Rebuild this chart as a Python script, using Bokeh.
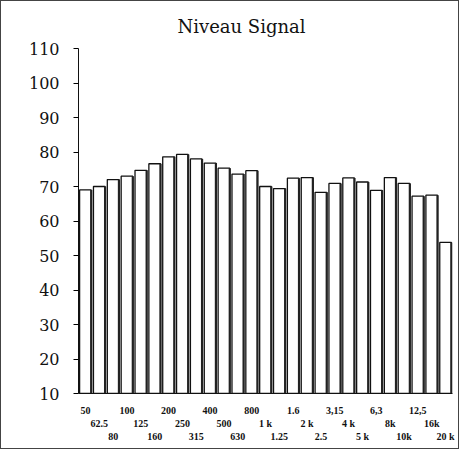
from bokeh.plotting import figure
from bokeh.models import Range1d, FixedTicker
from bokeh.embed import file_html
from bokeh.resources import INLINE

bands = ["50", "62.5", "80", "100", "125", "160", "200", "250", "315", "400",
         "500", "630", "800", "1 k", "1.25", "1.6", "2 k", "2.5", "3,15", "4 k",
         "5 k", "6,3", "8k", "10k", "12,5", "16k", "20 k"]
levels = [69, 70, 72, 73, 74.7, 76.6, 78.6, 79.3, 78, 76.8,
          75.3, 73.6, 74.6, 70, 69.4, 72.4, 72.6, 68.3, 70.9, 72.5,
          71.3, 68.9, 72.6, 70.9, 67.2, 67.5, 53.8]
y_ticks = [10, 20, 30, 40, 50, 60, 70, 80, 90, 100, 110]

xs = list(range(len(bands)))
bw = 0.84

p = figure(width=459, height=449, output_backend="svg", toolbar_location=None,
           x_range=Range1d(-0.5, len(bands) - 0.5), y_range=Range1d(10, 110),
           min_border_left=78, min_border_right=7, min_border_top=48,
           min_border_bottom=56, title="Niveau Signal")
p.styles = {"box-shadow": "inset 0 0 0 1px #444", "background-color": "white"}

p.title.align = "left"
p.title.offset = 99
p.title.text_font = "DejaVu Serif"
p.title.text_font_size = "18px"
p.title.text_font_style = "normal"
p.title.text_color = "#111"
p.title.standoff = 24

p.vbar(x=xs, top=levels, bottom=10, width=bw, fill_color="white",
       line_color="#111", line_width=1.3)
p.segment(x0=[x + bw / 2 for x in xs], y0=[10] * len(xs),
          x1=[x + bw / 2 for x in xs], y1=levels, line_color="#222", line_width=2.2)

p.xgrid.visible = False
p.ygrid.visible = False
p.outline_line_color = None

p.yaxis.ticker = FixedTicker(ticks=y_ticks)
p.yaxis.minor_tick_line_color = None
p.yaxis.major_tick_out = 5
p.yaxis.major_tick_in = 0
p.yaxis.major_label_standoff = 14
p.yaxis.major_label_text_font = "DejaVu Serif"
p.yaxis.major_label_text_font_size = "16px"
p.yaxis.major_label_text_color = "#111"
p.yaxis.axis_line_color = "#111"

p.xaxis.ticker = FixedTicker(ticks=xs)
p.xaxis.major_label_overrides = {i: "\n" * (i % 3) + b for i, b in enumerate(bands)}
p.xaxis.minor_tick_line_color = None
p.xaxis.major_tick_line_color = None
p.xaxis.major_label_standoff = 5
p.xaxis.major_label_text_font = "Liberation Serif"
p.xaxis.major_label_text_font_size = "10px"
p.xaxis.major_label_text_font_style = "bold"
p.xaxis.major_label_text_color = "#111"
p.xaxis.axis_line_color = "#111"

p.background_fill_color = "white"
p.border_fill_color = None

open("out.html", "w").write(file_html(p, INLINE))
